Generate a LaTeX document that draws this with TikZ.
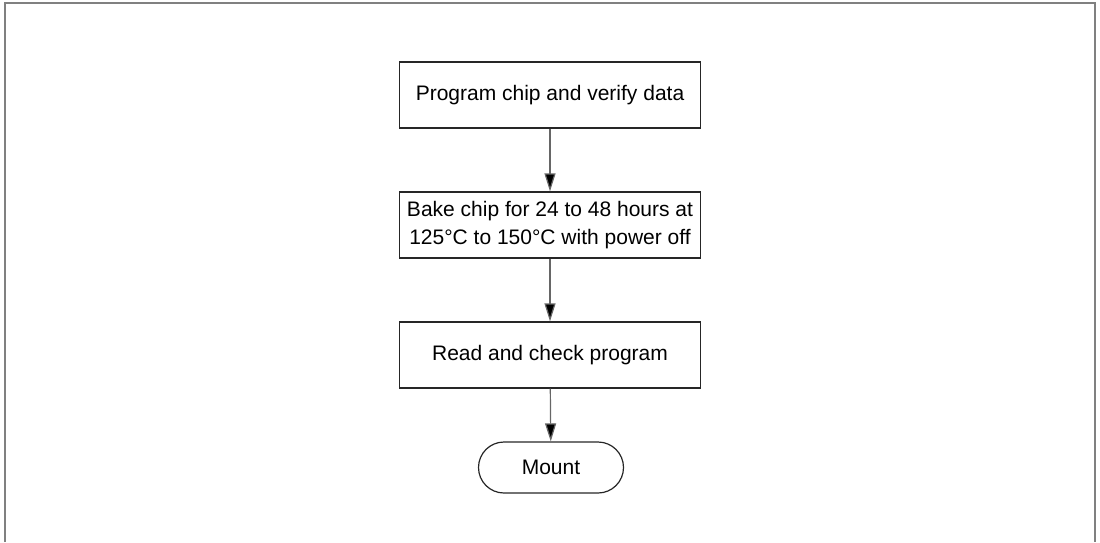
\documentclass[tikz,border=0pt]{standalone}
\usepackage{fontspec}
\setmainfont{Liberation Sans}
\usetikzlibrary{arrows.meta,shapes.misc}
\begin{document}
\begin{tikzpicture}[x=1pt,y=-1pt,
  every node/.style={font=\fontsize{21}{28}\selectfont},
  procbox/.style={draw=black!85,line width=1.2pt,minimum width=301pt,minimum height=66pt,align=center,inner sep=0pt},
  termbox/.style={draw=black!85,line width=1.2pt,rounded rectangle,minimum width=145pt,minimum height=51pt,inner sep=0pt},
  flow/.style={draw=black!60,line width=1.2pt,-{Triangle[length=18pt,width=11pt,fill=black]}}]
\useasboundingbox (0,0) rectangle (1100,542);
\draw[black!50,line width=1.5pt] (5,542) -- (5,3) -- (1095,3) -- (1095,542);
\node[procbox] (p1) at (550,95) {Program chip and verify data};
\node[procbox] (p2) at (550,225) {Bake chip for 24 to 48 hours at\\125\textdegree C to 150\textdegree C with power off};
\node[procbox] (p3) at (550,355) {Read and check program};
\node[termbox] (m) at (551,467.5) {Mount};
\draw[flow] (p1) -- (p2);
\draw[flow] (p2) -- (p3);
\draw[flow] (p3) -- (m);
\end{tikzpicture}
\end{document}
